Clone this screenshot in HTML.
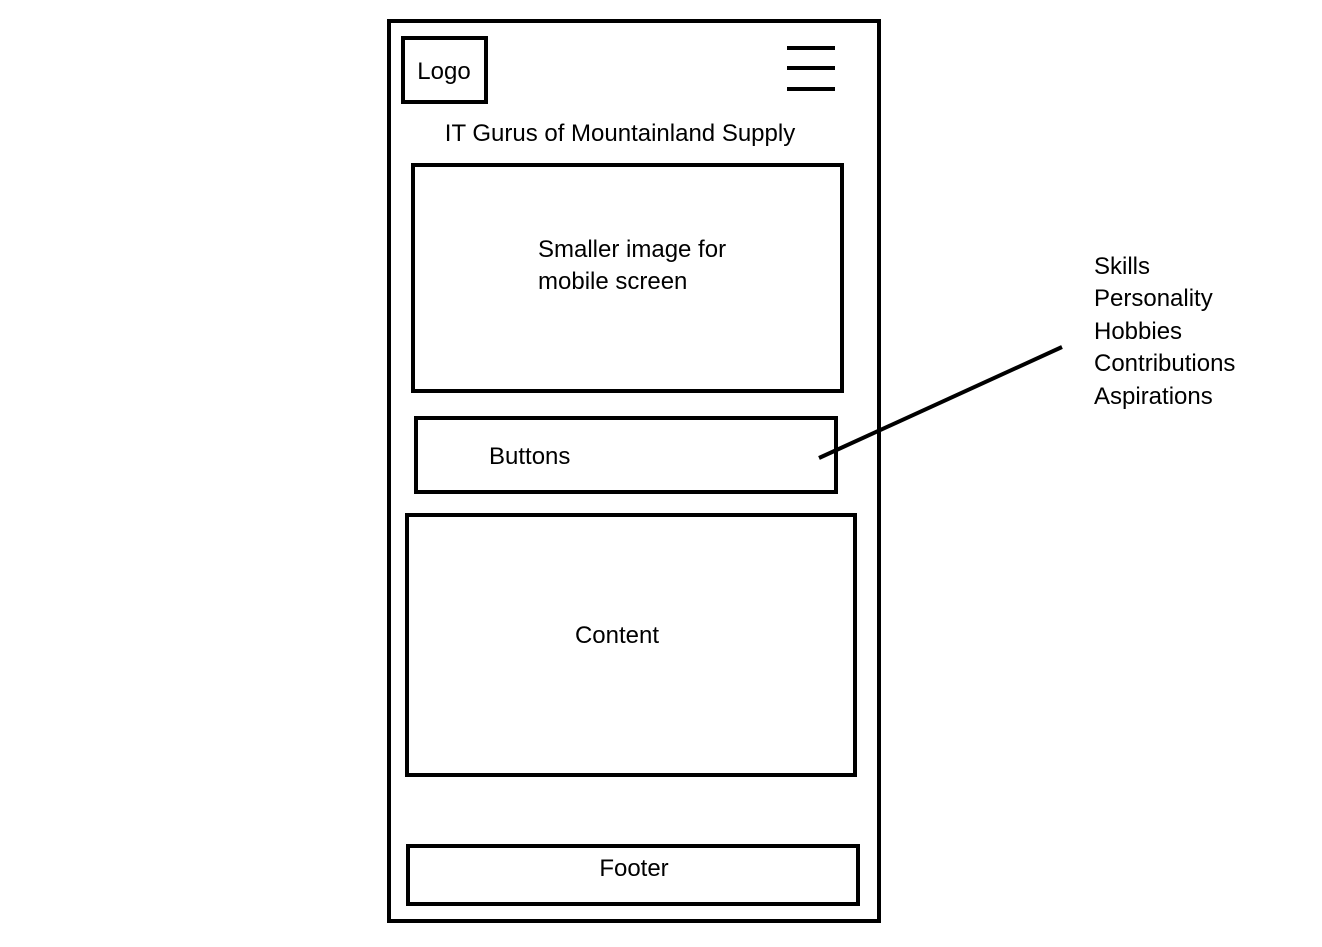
<!DOCTYPE html>
<html><head><meta charset="utf-8"><style>
html,body{margin:0;padding:0;background:#fff;}
svg{display:block;}
text{font-family:"Liberation Sans",sans-serif;font-size:24px;fill:#000;}
</style></head><body>
<svg width="1322" height="947" viewBox="0 0 1322 947" xmlns="http://www.w3.org/2000/svg">
<g fill="none" stroke="#000" stroke-width="4">
<rect x="389" y="21" width="490" height="900"/>
<rect x="403" y="38" width="83" height="64"/>
<rect x="413" y="165" width="429" height="226"/>
<rect x="416" y="418" width="420" height="74"/>
<rect x="407" y="515" width="448" height="260"/>
<rect x="408" y="846" width="450" height="58"/>
<line x1="787" y1="48" x2="835" y2="48"/>
<line x1="787" y1="68" x2="835" y2="68"/>
<line x1="787" y1="89" x2="835" y2="89"/>
<line x1="819" y1="458" x2="1062" y2="347"/>
</g>
<text x="444" y="79" text-anchor="middle">Logo</text>
<text x="620" y="141" text-anchor="middle">IT Gurus of Mountainland Supply</text>
<text x="538" y="257">Smaller image for</text>
<text x="538" y="289">mobile screen</text>
<text x="489" y="464">Buttons</text>
<text x="617" y="643" text-anchor="middle">Content</text>
<text x="634" y="876" text-anchor="middle">Footer</text>
<text x="1094" y="274">Skills</text>
<text x="1094" y="306">Personality</text>
<text x="1094" y="339">Hobbies</text>
<text x="1094" y="371">Contributions</text>
<text x="1094" y="404">Aspirations</text>
</svg>
</body></html>
